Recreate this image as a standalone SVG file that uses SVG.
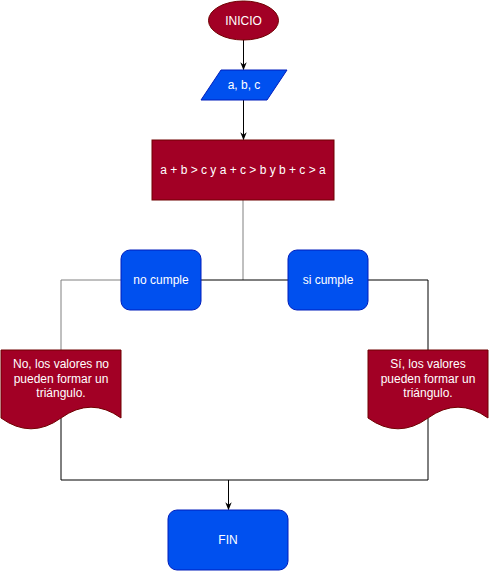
<svg xmlns="http://www.w3.org/2000/svg" width="489" height="571" viewBox="0 0 489 571">
<style>
.red{fill:#a20025;stroke:#6f0000;stroke-width:1}
.blue{fill:#0050ef;stroke:#001dbc;stroke-width:1}
.t{font-family:"Liberation Sans",Arial,sans-serif;font-size:12px;fill:#ffffff;text-anchor:middle;dominant-baseline:central}
.ln{fill:none;stroke:#000000;stroke-width:1}
.gl{fill:none;stroke:#808080;stroke-width:1}
</style>
<defs>
<marker id="arr" viewBox="0 0 10 10" refX="9" refY="5" markerWidth="8" markerHeight="8" markerUnits="userSpaceOnUse" orient="auto">
<path d="M0,1 L10,5 L0,9 L3,5 Z" fill="#000000"/>
</marker>
</defs>
<rect width="489" height="571" fill="#ffffff"/>
<g id="connectors">
<line class="ln" x1="243.5" y1="40" x2="243.5" y2="69.5" marker-end="url(#arr)"/>
<line class="ln" x1="243.5" y1="100" x2="243.5" y2="139.5" marker-end="url(#arr)"/>
<polyline class="gl" points="243,200 243,280"/>
<line class="ln" x1="201" y1="280" x2="288" y2="280"/>
<polyline class="gl" points="121,280 61,280 61,350"/>
<polyline class="ln" points="368,280 428,280 428,350"/>
<polyline class="ln" points="61,418 61,480 428,480 428,418"/>
<line class="ln" x1="228.5" y1="480" x2="228.5" y2="509.5" marker-end="url(#arr)"/>
</g>
<g id="inicio">
<ellipse class="red" cx="243.5" cy="20.5" rx="35" ry="19.5"/>
<text class="t" x="243.5" y="20.5">INICIO</text>
</g>
<g id="entrada">
<polygon class="blue" points="221,70 287,70 267,100 201,100"/>
<text class="t" x="244" y="85">a, b, c</text>
</g>
<g id="condicion">
<rect class="red" x="152" y="140" width="182" height="60"/>
<text class="t" x="243" y="170">a + b &gt; c y a + c &gt; b y b + c &gt; a</text>
</g>
<g id="no_cumple">
<rect class="blue" x="121" y="250" width="80" height="60" rx="9" ry="9"/>
<text class="t" x="161" y="280">no cumple</text>
</g>
<g id="si_cumple">
<rect class="blue" x="288" y="250" width="80" height="60" rx="9" ry="9"/>
<text class="t" x="328" y="280">si cumple</text>
</g>
<g id="doc_no">
<path class="red" d="M1,350 H121 V418 Q91,396.4 61,418 Q31,439.6 1,418 Z"/>
<text class="t" x="61" y="364">No, los valores no</text>
<text class="t" x="61" y="378.5">pueden formar un</text>
<text class="t" x="61" y="393">triángulo.</text>
</g>
<g id="doc_si">
<path class="red" d="M368,350 H488 V418 Q458,396.4 428,418 Q398,439.6 368,418 Z"/>
<text class="t" x="428" y="364">Sí, los valores</text>
<text class="t" x="428" y="378.5">pueden formar un</text>
<text class="t" x="428" y="393">triángulo.</text>
</g>
<g id="fin">
<rect class="blue" x="168" y="510" width="120" height="60" rx="9" ry="9"/>
<text class="t" x="228" y="540">FIN</text>
</g>
</svg>
